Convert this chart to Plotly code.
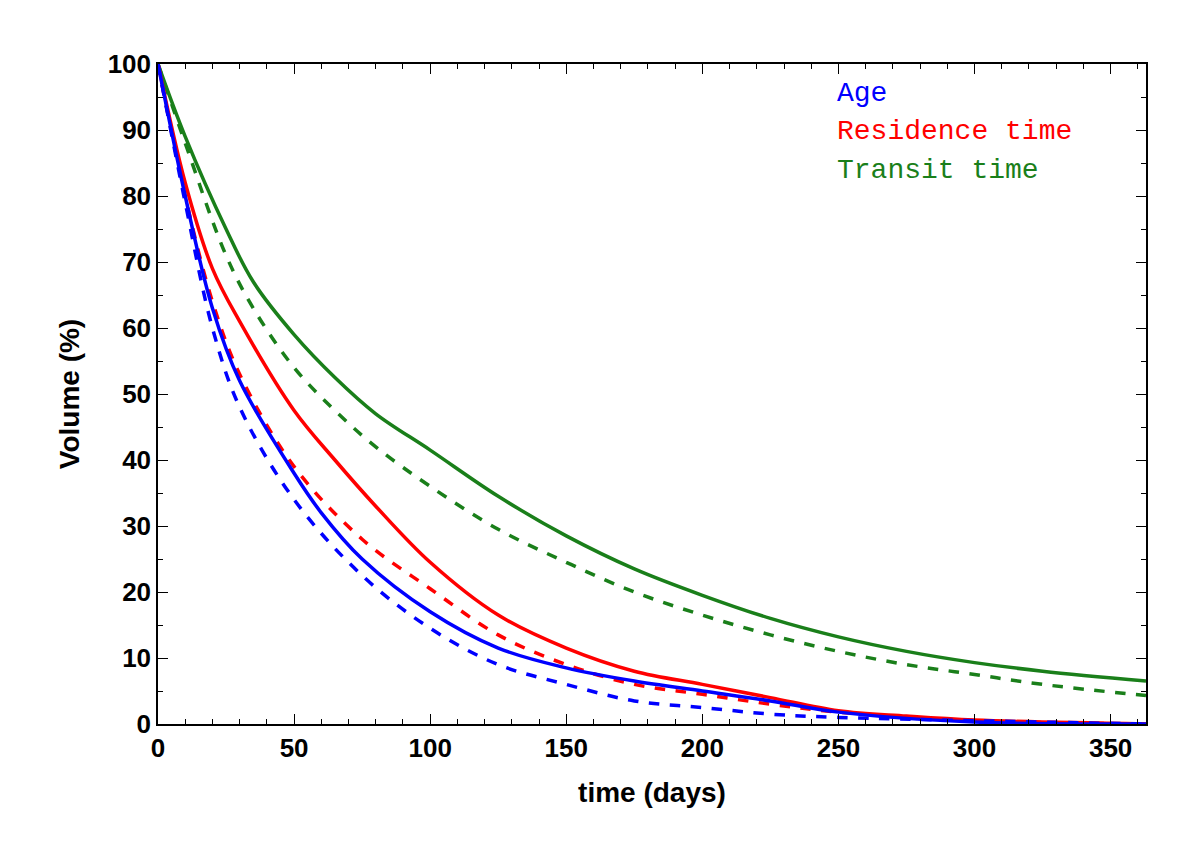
import plotly.graph_objects as go

# days / volume (%)
green_x = [0, 10, 25, 35, 50, 65, 80, 100, 125, 150, 175, 200, 225, 250, 275, 300, 325, 363]
green_solid = [100, 89, 75, 67, 59, 52.5, 47, 41.5, 34.5, 28.5, 23.5, 19.5, 16, 13.2, 11, 9.3, 8, 6.5]
green_dash = [100, 88, 71, 63, 54, 47.5, 42, 36, 29.5, 24.5, 20, 16.5, 13.5, 11, 9, 7.5, 6, 4.3]

red_x = [0, 10, 20, 30, 50, 65, 80, 100, 125, 150, 175, 200, 225, 250, 275, 300, 363]
red_solid = [100, 82, 69, 61, 47.5, 40, 33, 24.5, 16.5, 11.5, 8, 6, 4, 2, 1.2, 0.6, 0]
red_dash_x = [0, 10, 20, 30, 50, 75, 100, 125, 150, 175, 200, 225, 250, 300, 363]
red_dash = [100, 80, 64, 53, 39, 28, 20.5, 13.5, 9, 6, 4.5, 3, 1.8, 0.5, 0]

blue_x = [0, 10, 20, 30, 50, 60, 75, 100, 125, 150, 175, 200, 225, 250, 300, 363]
blue_solid = [100, 80, 63, 52, 38, 32, 25, 17, 11.5, 8.5, 6.5, 5, 3.5, 1.8, 0.3, 0]
blue_dash_x = [0, 10, 20, 30, 50, 75, 100, 125, 150, 175, 200, 225, 250, 300, 363]
blue_dash = [100, 79, 60, 48, 34, 22.5, 14.5, 9, 6, 3.5, 2.5, 1.5, 1, 0.5, 0]

GREEN, RED, BLUE = "#1a7f1a", "#ff0000", "#0000ff"

fig = go.Figure()
series = [
    (green_x, green_dash, GREEN, "dash"), (green_x, green_solid, GREEN, "solid"),
    (red_dash_x, red_dash, RED, "dash"), (red_x, red_solid, RED, "solid"),
    (blue_dash_x, blue_dash, BLUE, "dash"), (blue_x, blue_solid, BLUE, "solid"),
]
for x, y, c, d in series:
    fig.add_trace(go.Scatter(x=x, y=y, mode="lines", showlegend=False,
                             line=dict(color=c, width=3.5, dash=d, shape="spline", smoothing=1)))

# legend as coloured text
for i, (txt, c) in enumerate([("Age", BLUE), ("Residence time", RED), ("Transit time", GREEN)]):
    fig.add_annotation(x=0.685, y=0.955 - i * 0.058, xref="paper", yref="paper",
                       text=txt, showarrow=False, xanchor="left", yanchor="middle",
                       font=dict(family="Liberation Mono", size=28, color=c))

axis = dict(showline=True, linecolor="black", linewidth=1.5, mirror="allticks",
            ticks="inside", ticklen=10, tickcolor="black", showgrid=False, zeroline=False,
            tickfont=dict(family="Liberation Sans", size=26, color="black", weight="bold"),
            minor=dict(ticks="inside", ticklen=5, tickcolor="black"))

title_font = dict(family="Liberation Sans", size=28, color="black", weight="bold")
fig.update_xaxes(axis, range=[0, 363], dtick=50, minor_dtick=10,
                 title=dict(text="time (days)", font=title_font, standoff=20))
fig.update_yaxes(axis, range=[0, 100], dtick=10, minor_dtick=5,
                 title=dict(text="Volume (%)", font=title_font, standoff=20))

fig.update_layout(width=1200, height=856, plot_bgcolor="white", paper_bgcolor="white",
                  margin=dict(l=150, r=62, t=56, b=140))

fig.write_html("out.html")
